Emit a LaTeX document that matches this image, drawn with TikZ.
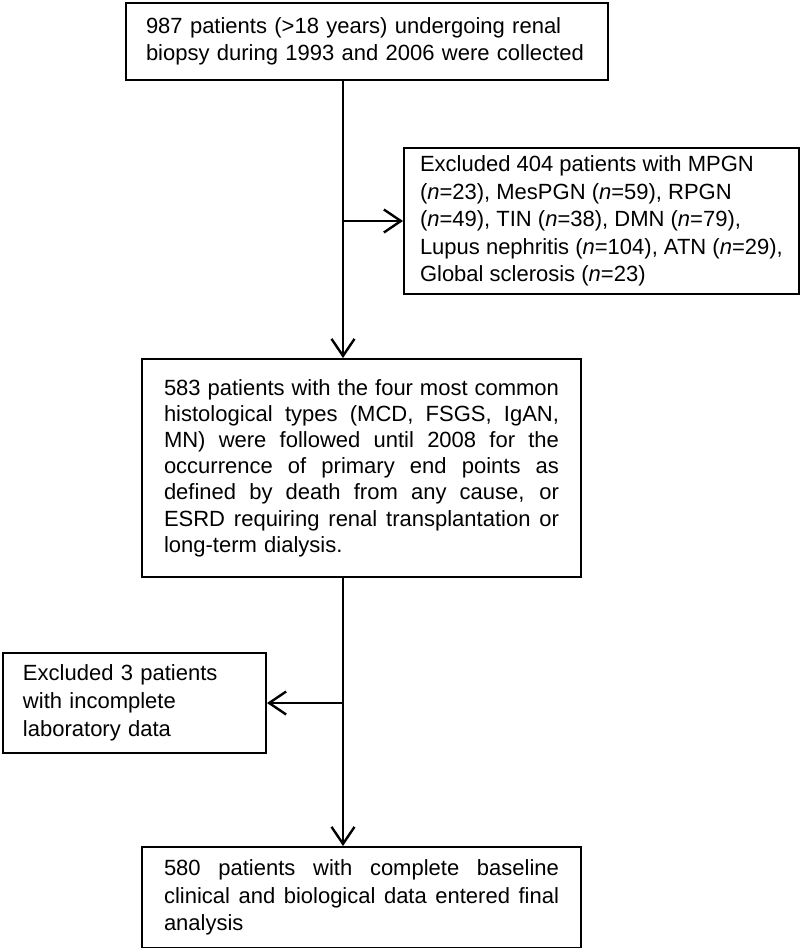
\documentclass[tikz,border=0pt]{standalone}
\usepackage{fontspec}
\setmainfont{Liberation Sans}
\usetikzlibrary{arrows.meta}
\newcommand{\jline}[1]{{\spaceskip=0pt\xspaceskip=0pt\makebox[395pt][s]{#1}}}
\tikzset{
	flowbox/.style={draw, line width=2pt, anchor=north west, align=left, inner ysep=0pt, font=\fontsize{22}{27.5}\selectfont},
	flowarrow/.style={line width=2.4pt, -{Straight Barb[length=17pt,width=23pt]}}
}

\begin{document}
\begin{tikzpicture}[x=1pt,y=-1pt]
			%%%%% START %%%%%
			\useasboundingbox (0,0) rectangle (808,948);
			
			\coordinate (spine) at (343,0);
			
			\node[flowbox, text width=442pt, inner xsep=20pt, minimum height=77pt] (collected) at (125,2)
				{987 patients (>18 years) undergoing renal\\ biopsy during 1993 and 2006 were collected};
			
			\node[flowbox, inner xsep=16pt, minimum height=146pt] (excl404) at (403,147)
				{Excluded 404 patients with MPGN\\
				 (\textit{n}=23), MesPGN (\textit{n}=59), RPGN\\
				 (\textit{n}=49), TIN (\textit{n}=38), DMN (\textit{n}=79),\\
				 Lupus nephritis (\textit{n}=104), ATN (\textit{n}=29),\\
				 Global sclerosis (\textit{n}=23)};
			
			\node[flowbox, text width=395pt, inner xsep=22pt, minimum height=218pt, font=\fontsize{22}{26.2}\selectfont] (followed) at (141,358)
				{\jline{583 patients with the four most common}\\
				 \jline{histological types (MCD, FSGS, IgAN,}\\
				 \jline{MN) were followed until 2008 for the}\\
				 \jline{occurrence of primary end points as}\\
				 \jline{defined by death from any cause, or}\\
				 \jline{ESRD requiring renal transplantation or}\\
				 long-term dialysis.};
			
			\node[flowbox, text width=223pt, inner xsep=20pt, minimum height=100pt, font=\fontsize{22}{28}\selectfont] (excl3) at (2,652)
				{Excluded 3 patients\\ with incomplete\\ laboratory data};
			
			\node[flowbox, text width=395pt, inner xsep=22pt, minimum height=101pt] (final) at (141,846)
				{\jline{580 patients with complete baseline}\\
				 \jline{clinical and biological data entered final}\\
				 analysis};
			
			\draw[flowarrow] (collected.south -| spine) -- (followed.north -| spine);
			\draw[flowarrow] (excl404.west -| spine) -- (excl404.west);
			\draw[flowarrow] (followed.south -| spine) -- (final.north -| spine);
			\draw[flowarrow] (excl3.east -| spine) -- (excl3.east);
			
			%%%%% END %%%%%
\end{tikzpicture}
\end{document}
